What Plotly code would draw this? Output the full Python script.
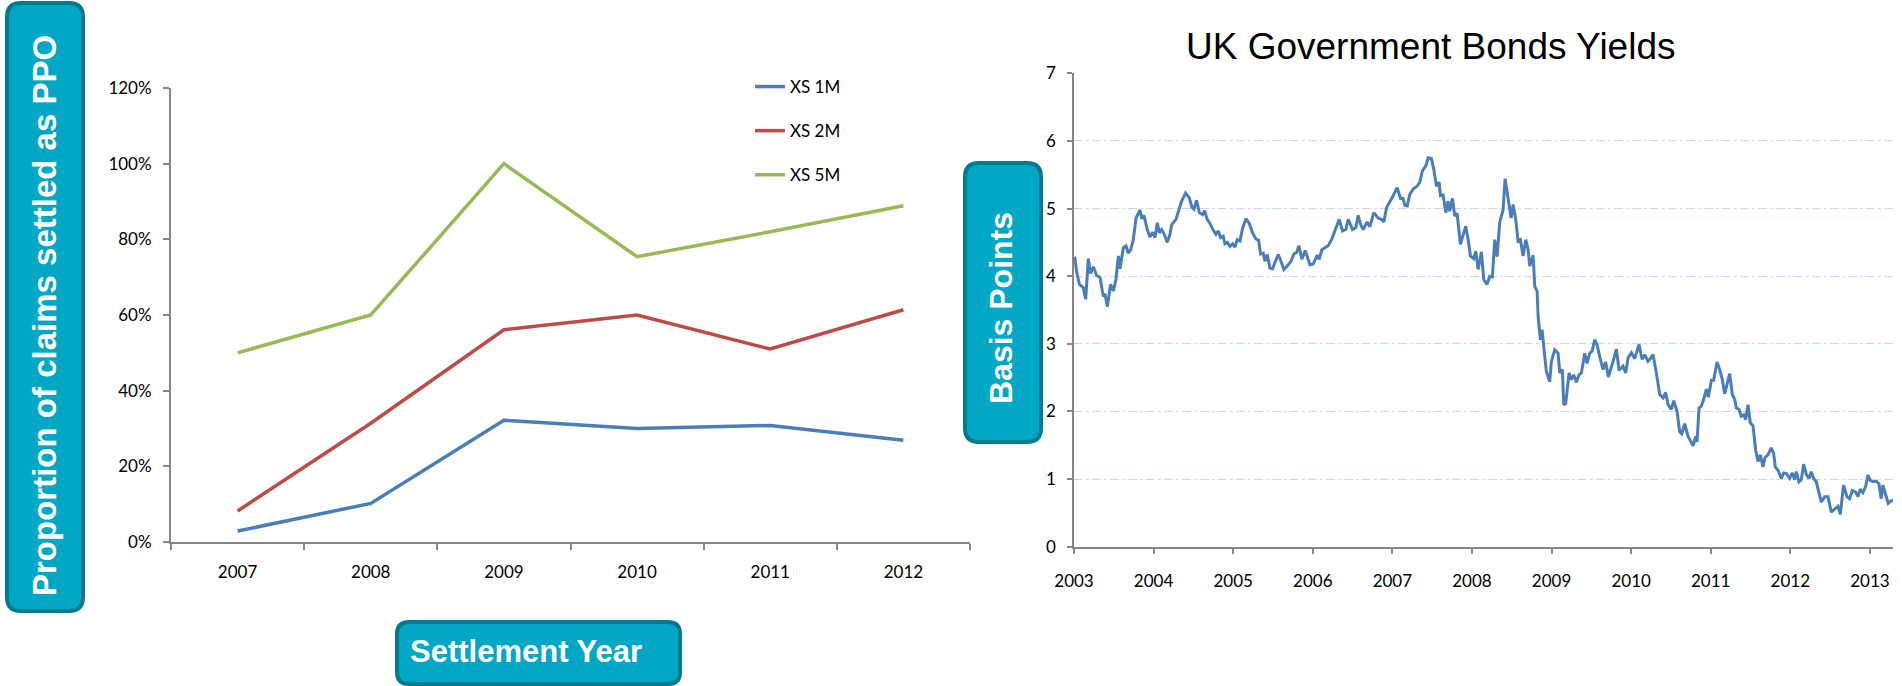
import plotly.graph_objects as go

W, H = 1902, 686

# ---------------- Left chart data ----------------
settlement_years = ["2007", "2008", "2009", "2010", "2011", "2012"]
xs_1m = [0.029, 0.102, 0.322, 0.300, 0.308, 0.269]
xs_2m = [0.082, 0.314, 0.561, 0.600, 0.510, 0.614]
xs_5m = [0.500, 0.600, 1.000, 0.754, 0.820, 0.889]
series_names = ["XS 1M", "XS 2M", "XS 5M"]
series_colors = ["#4A7EBB", "#BE4B48", "#98B954"]
pct_ticks = [0, 0.2, 0.4, 0.6, 0.8, 1.0, 1.2]

# ---------------- Right chart data (decimal years, yield) ----------------
bond_time = [
    2003.008, 2003.033, 2003.067, 2003.117, 2003.147, 2003.180, 2003.209, 2003.243, 2003.285, 2003.327,
    2003.368, 2003.389, 2003.419, 2003.460, 2003.494, 2003.527, 2003.557, 2003.578, 2003.620, 2003.653,
    2003.682, 2003.712, 2003.745, 2003.779, 2003.829, 2003.850, 2003.879, 2003.921, 2003.954, 2003.988,
    2004.017, 2004.047, 2004.072, 2004.101, 2004.134, 2004.172, 2004.206, 2004.227, 2004.281, 2004.310,
    2004.352, 2004.402, 2004.448, 2004.482, 2004.507, 2004.540, 2004.574, 2004.616, 2004.641, 2004.674,
    2004.708, 2004.741, 2004.783, 2004.813, 2004.842, 2004.875, 2004.896, 2004.926, 2004.959, 2004.993,
    2005.022, 2005.051, 2005.085, 2005.118, 2005.160, 2005.202, 2005.244, 2005.286, 2005.319, 2005.344,
    2005.378, 2005.399, 2005.428, 2005.461, 2005.495, 2005.524, 2005.566, 2005.600, 2005.637, 2005.679,
    2005.721, 2005.763, 2005.796, 2005.826, 2005.863, 2005.905, 2005.934, 2005.964, 2006.006, 2006.056,
    2006.081, 2006.114, 2006.152, 2006.194, 2006.236, 2006.278, 2006.299, 2006.332,
    2006.374, 2006.415, 2006.445, 2006.499, 2006.541, 2006.570, 2006.600, 2006.633, 2006.683, 2006.717,
    2006.767, 2006.821, 2006.863, 2006.893, 2006.926, 2006.968, 2007.010, 2007.060, 2007.102, 2007.135,
    2007.156, 2007.186, 2007.219, 2007.261, 2007.311, 2007.345, 2007.378, 2007.420, 2007.449, 2007.491,
    2007.520, 2007.554, 2007.587, 2007.604, 2007.638, 2007.671, 2007.700, 2007.721, 2007.755, 2007.784,
    2007.813, 2007.855, 2007.889, 2007.922, 2007.952, 2007.981, 2008.023, 2008.048, 2008.077, 2008.119,
    2008.148, 2008.190, 2008.224, 2008.257, 2008.286, 2008.316, 2008.349, 2008.391, 2008.416, 2008.441,
    2008.466, 2008.492, 2008.517, 2008.550, 2008.579, 2008.609, 2008.642, 2008.676, 2008.705, 2008.726,
    2008.768, 2008.789, 2008.818, 2008.831, 2008.860, 2008.881, 2008.906, 2008.935, 2008.977, 2008.998,
    2009.040, 2009.082, 2009.103, 2009.136, 2009.153, 2009.178, 2009.220, 2009.249, 2009.279, 2009.312,
    2009.345, 2009.375, 2009.417, 2009.446, 2009.479, 2009.509, 2009.542, 2009.571, 2009.605, 2009.647,
    2009.680, 2009.714,
    2009.773, 2009.815, 2009.848, 2009.898, 2009.932, 2009.961, 2010.003, 2010.045, 2010.099, 2010.137,
    2010.171, 2010.212, 2010.242, 2010.275, 2010.317, 2010.359, 2010.401, 2010.434, 2010.464, 2010.505,
    2010.535, 2010.577, 2010.610, 2010.635, 2010.673, 2010.715, 2010.757, 2010.777, 2010.811, 2010.828,
    2010.853, 2010.882, 2010.911, 2010.945, 2010.970, 2011.008, 2011.037, 2011.079, 2011.112, 2011.146,
    2011.175, 2011.204, 2011.238, 2011.271, 2011.301, 2011.322, 2011.355, 2011.384, 2011.414, 2011.439,
    2011.468, 2011.497, 2011.531, 2011.564, 2011.594, 2011.623, 2011.656, 2011.682, 2011.719, 2011.761,
    2011.790, 2011.811, 2011.845, 2011.887, 2011.916, 2011.950, 2011.991, 2012.025, 2012.054, 2012.075,
    2012.109, 2012.138, 2012.167, 2012.201, 2012.234, 2012.263, 2012.293, 2012.326, 2012.360, 2012.389,
    2012.431, 2012.473, 2012.515, 2012.557, 2012.598, 2012.628, 2012.669, 2012.711, 2012.745, 2012.778,
    2012.820, 2012.850, 2012.879, 2012.912, 2012.946, 2012.975, 2013.004, 2013.038, 2013.080, 2013.113,
    2013.142, 2013.163, 2013.197, 2013.230, 2013.268, 2013.297,
]
bond_yield = [
    4.29, 4.07, 3.88, 3.83, 3.66, 4.26, 4.04, 4.14, 4.01, 3.98,
    3.70, 3.74, 3.55, 3.88, 3.78, 3.95, 4.30, 4.11, 4.42, 4.45,
    4.34, 4.39, 4.54, 4.86, 4.98, 4.85, 4.90, 4.69, 4.58, 4.65,
    4.57, 4.79, 4.64, 4.69, 4.62, 4.50, 4.62, 4.76, 4.84, 4.94,
    5.11, 5.23, 5.16, 5.02, 4.99, 5.12, 4.94, 4.91, 4.97, 4.84,
    4.78, 4.70, 4.62, 4.67, 4.57, 4.59, 4.48, 4.50, 4.44, 4.48,
    4.43, 4.54, 4.52, 4.71, 4.85, 4.78, 4.64, 4.55, 4.53, 4.33,
    4.34, 4.22, 4.32, 4.12, 4.11, 4.20, 4.32, 4.22, 4.10, 4.15,
    4.21, 4.33, 4.35, 4.45, 4.25, 4.38, 4.27, 4.17, 4.18, 4.31,
    4.25, 4.39, 4.42, 4.45, 4.54, 4.68, 4.74, 4.84,
    4.67, 4.69, 4.84, 4.69, 4.72, 4.90, 4.77, 4.69, 4.80, 4.73,
    4.94, 4.86, 4.84, 4.80, 5.01, 5.09, 5.19, 5.31, 5.15, 5.15,
    5.05, 5.04, 5.21, 5.29, 5.33, 5.39, 5.56, 5.63, 5.75, 5.74,
    5.58, 5.33, 5.39, 5.19, 5.20, 4.94, 5.11, 4.96, 5.15, 4.89,
    4.93, 4.47, 4.60, 4.74, 4.54, 4.30, 4.26, 4.37, 4.10, 4.36,
    3.95, 3.88, 4.00, 3.99, 4.54, 4.29, 4.80, 4.98, 5.44, 5.26,
    5.04, 4.86, 5.06, 4.84, 4.52, 4.54, 4.30, 4.54, 4.40, 4.15,
    4.31, 3.85, 3.78, 3.41, 3.06, 3.21, 2.91, 2.59, 2.44, 2.74,
    2.91, 2.86, 2.57, 2.62, 2.10, 2.12, 2.57, 2.47, 2.54, 2.43,
    2.54, 2.57, 2.86, 2.71, 2.86, 2.89, 3.06, 2.99, 2.81, 2.62,
    2.73, 2.51,
    2.74, 2.92, 2.61, 2.67, 2.57, 2.79, 2.87, 2.78, 2.99, 2.77,
    2.84, 2.74, 2.78, 2.84, 2.57, 2.25, 2.20, 2.28, 2.10, 2.03,
    2.16, 2.00, 1.70, 1.67, 1.82, 1.63, 1.54, 1.49, 1.63, 1.55,
    2.05, 2.08, 2.18, 2.33, 2.21, 2.46, 2.46, 2.73, 2.62, 2.47,
    2.26, 2.42, 2.56, 2.25, 2.18, 2.05, 2.03, 1.93, 1.95, 1.88,
    2.10, 1.83, 1.79, 1.43, 1.26, 1.36, 1.18, 1.32, 1.36, 1.46,
    1.38, 1.18, 1.13, 1.01, 1.09, 1.08, 1.01, 1.09, 0.99, 1.11,
    0.96, 0.99, 1.22, 1.07, 1.01, 1.11, 1.01, 0.96, 0.79, 0.66,
    0.74, 0.74, 0.51, 0.55, 0.60, 0.48, 0.91, 0.74, 0.71, 0.83,
    0.81, 0.74, 0.85, 0.80, 0.89, 1.06, 0.98, 0.96, 0.97, 0.93,
    0.71, 0.91, 0.76, 0.64, 0.68, 0.68,
]
year_ticks = list(range(2003, 2014))
yield_ticks = [0, 1, 2, 3, 4, 5, 6, 7]

# ---------------- helpers (pixel -> paper) ----------------
def px(x):
    return x / W

def py(y):
    return 1 - y / H

def rounded_path(x0, y0, x1, y1, r):
    pts = [
        ("M", (x0 + r, y0)), ("L", (x1 - r, y0)),
        ("Q", (x1, y0), (x1, y0 + r)), ("L", (x1, y1 - r)),
        ("Q", (x1, y1), (x1 - r, y1)), ("L", (x0 + r, y1)),
        ("Q", (x0, y1), (x0, y1 - r)), ("L", (x0, y0 + r)),
        ("Q", (x0, y0), (x0 + r, y0)),
    ]
    out = []
    for p in pts:
        coords = " ".join(f"{px(a):.5f},{py(b):.5f}" for a, b in p[1:])
        out.append(f"{p[0]} {coords}")
    return " ".join(out) + " Z"

TICK_FONT = dict(family="Lato, Carlito, Calibri, sans-serif", size=17, color="#000000")
AXIS_GREY = "#868686"
BOX_FILL = "#00A8C6"
BOX_LINE = "#007A90"
BOX_FONT = dict(family="Liberation Sans, Arial, sans-serif", size=32, color="white")

fig = go.Figure()

for name, vals, col in zip(series_names, [xs_1m, xs_2m, xs_5m], series_colors):
    fig.add_trace(go.Scatter(
        x=settlement_years, y=vals, mode="lines", name=name,
        line=dict(color=col, width=3.5), legendgroup=name,
        xaxis="x", yaxis="y",
    ))

fig.add_trace(go.Scatter(
    x=bond_time, y=bond_yield, mode="lines", showlegend=False,
    line=dict(color="#4A7EBB", width=3), xaxis="x2", yaxis="y2",
))

# plot area geometry in pixels
L_x0, L_x1, L_ytop, L_ybot = 171, 970, 88, 542
R_x0, R_x1, R_ytop, R_ybot = 1074, 1893, 73.3, 546.7

common_axis = dict(
    ticks="outside", tickwidth=1.5, tickcolor=AXIS_GREY,
    showline=True, linecolor=AXIS_GREY, zeroline=False,
    tickfont=TICK_FONT, automargin=False,
)

fig.update_layout(
    template="none",
    width=W, height=H,
    margin=dict(l=0, r=0, t=0, b=0, pad=0),
    paper_bgcolor="white", plot_bgcolor="rgba(0,0,0,0)",
    showlegend=True,
    legend=dict(
        x=px(750), y=py(69), xanchor="left", yanchor="top",
        font=dict(family="Lato, Carlito, Calibri, sans-serif", size=17, color="#000"),
        tracegroupgap=19, itemwidth=30, bgcolor="rgba(0,0,0,0)", borderwidth=0,
    ),
    xaxis=dict(
        common_axis,
        domain=[px(L_x0), px(L_x1)], anchor="y", type="category",
        categoryorder="array", categoryarray=settlement_years,
        range=[-0.5, 5.5], tickson="boundaries", ticklen=6,
        linewidth=2, showgrid=False, ticklabelstandoff=14,
    ),
    yaxis=dict(
        common_axis,
        domain=[py(L_ybot), py(L_ytop)], anchor="x",
        range=[0, 1.2], tickvals=pct_ticks, tickformat=".0%", ticklen=6,
        linewidth=2, showgrid=False, ticklabelstandoff=8,
    ),
    xaxis2=dict(
        common_axis,
        domain=[px(R_x0), px(R_x1)], anchor="y2",
        range=[2003, 2013.29], tickvals=year_ticks,
        ticktext=[str(y) for y in year_ticks], ticklen=6,
        linewidth=1.5, showgrid=False, ticklabelstandoff=12,
    ),
    yaxis2=dict(
        common_axis,
        domain=[py(R_ybot), py(R_ytop)], anchor="x2",
        range=[0, 7], tickvals=yield_ticks, ticklen=5, linewidth=1.5,
        showgrid=True, gridcolor="#C6D9F1", gridwidth=1, griddash="dashdot",
        ticklabelstandoff=8,
    ),
)

# Rounded teal label boxes
boxes = [
    (7, 3, 83, 611, 14),      # left y-title box
    (397, 622, 680, 684, 12), # Settlement Year box
    (965, 163, 1041, 442, 14) # Basis Points box
]
for x0, y0, x1, y1, r in boxes:
    fig.add_shape(
        type="path", xref="paper", yref="paper",
        path=rounded_path(x0, y0, x1, y1, r),
        fillcolor=BOX_FILL, line=dict(color=BOX_LINE, width=4), layer="above",
    )

fig.add_annotation(
    text="<b>Proportion of claims settled as PPO</b>", xref="paper", yref="paper",
    x=px(44), y=py(316), xanchor="center", yanchor="middle", textangle=-90,
    showarrow=False, font=dict(BOX_FONT, size=33),
)
fig.add_annotation(
    text="<b>Settlement Year</b>", xref="paper", yref="paper",
    x=px(408), y=py(651), xanchor="left", yanchor="middle",
    showarrow=False, font=dict(BOX_FONT, size=31),
)
fig.add_annotation(
    text="<b>Basis Points</b>", xref="paper", yref="paper",
    x=px(1001), y=py(308), xanchor="center", yanchor="middle", textangle=-90,
    showarrow=False, font=BOX_FONT,
)
fig.add_annotation(
    text="UK Government Bonds Yields", xref="paper", yref="paper",
    x=px(1430), y=py(46), xanchor="center", yanchor="middle",
    showarrow=False, font=dict(family="Liberation Sans, Arial, sans-serif", size=37, color="#000"),
)

fig.write_html("out.html")
